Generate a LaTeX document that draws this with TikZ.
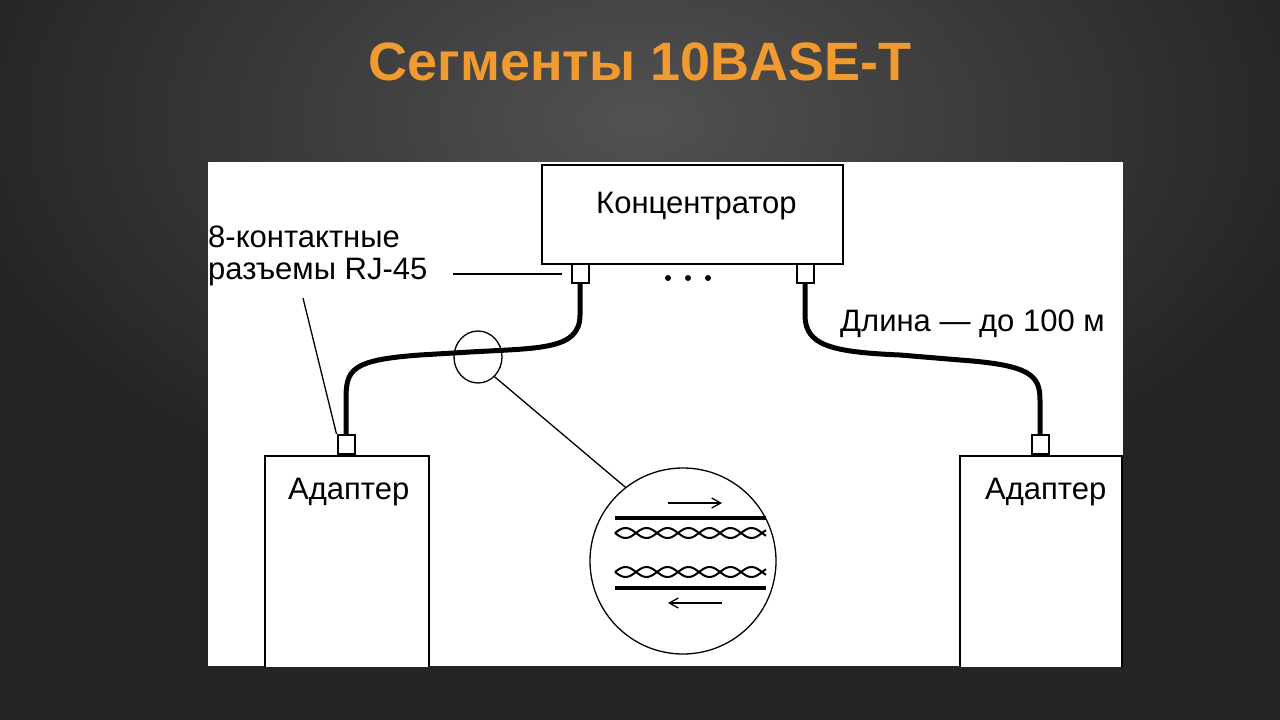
\documentclass[tikz,border=0pt]{standalone}
\usepackage{fontspec}
\setmainfont{Liberation Sans}
\usetikzlibrary{arrows.meta,shapes.geometric}
\begin{document}
\begin{tikzpicture}[x=1pt,y=-1pt,
  lbl/.style={font=\fontsize{31}{34}\selectfont,inner sep=0pt},
  box/.style={draw,line width=2pt,fill=white},
  jack/.style={draw,line width=2pt,fill=white},
  cable/.style={line width=5pt},
  thin/.style={line width=1.3pt}]
\useasboundingbox (0,0) rectangle (1280,720);
\fill[black!86] (0,0) rectangle (1280,720);
\shade[inner color=black!68,outer color=black!86] (640,120) ellipse (700 and 420);
\node (title) at (640,62) {\fontsize{54}{60}\selectfont\bfseries\color[HTML]{F09A30}Сегменты 10BASE-T};
\fill[white] (208,162) rectangle (1123,666);
\begin{scope}
\clip (208,162) rectangle (1123,666);
\node[box,minimum width=301pt,minimum height=99pt,anchor=north west] (hub) at (541,164) {};
\node[lbl,anchor=west] (hubt) at (596,206) {Концентратор};
\node[box,minimum width=164pt,minimum height=215pt,anchor=north west] (ad1) at (264,455) {};
\node[lbl,anchor=west] (ad1t) at (288,492) {Адаптер};
\node[box,minimum width=162pt,minimum height=215pt,anchor=north west] (ad2) at (959,455) {};
\node[lbl,anchor=west] (ad2t) at (985,492) {Адаптер};
\node[jack,minimum width=17pt,minimum height=19pt,inner sep=0pt,anchor=north] (j1) at (580,263) {};
\node[jack,minimum width=17pt,minimum height=19pt,inner sep=0pt,anchor=north] (j2) at (805,263) {};
\node[jack,minimum width=17pt,minimum height=19pt,inner sep=0pt,anchor=south] (j3) at (346,455) {};
\node[jack,minimum width=17pt,minimum height=19pt,inner sep=0pt,anchor=south] (j4) at (1040,455) {};
\foreach \x in {668,688,708} \fill (\x,278) circle (3);
\draw[cable] (j1.south) -- (580,315) .. controls (580,350) and (540,348) .. (470,352)
  -- (420,355) .. controls (350,360) and (346,370) .. (346,400) -- (j3.north);
\draw[cable] (j2.south) -- (805,315) .. controls (805,345) and (830,352) .. (900,355)
  -- (960,360) .. controls (1030,365) and (1040,375) .. (1040,400) -- (j4.north);
\node[draw,thin,ellipse,minimum width=48pt,minimum height=52pt,inner sep=0pt] (sc) at (478,357) {};
\node[draw,thin,circle,minimum size=186pt,inner sep=0pt] (bc) at (683,561) {};
\draw[thin] (sc.-50) -- (bc.128);
\node[lbl,anchor=west] (l1) at (208,237) {8-контактные};
\node[lbl,anchor=west] (l2) at (208,272) {разъемы RJ-45};
\coordinate (lend) at (562,274);
\draw[thin] (453,274) -- (lend);
\draw[thin] (303,298) -- (j3.north west);
\node[lbl,anchor=west] (len) at (840,324) {Длина — до 100 м};
\draw[line width=4pt] (615,518) -- (766,518);
\draw[line width=4pt] (615,588) -- (766,588);
\foreach \y in {533,572}{
  \draw[line width=2pt] plot[domain=615:766,samples=150,smooth] (\x,{\y+5*sin(2*pi*(\x-615)/42 r)});
  \draw[line width=2pt] plot[domain=615:766,samples=150,smooth] (\x,{\y-5*sin(2*pi*(\x-615)/42 r)});
}
\draw[thin,-{Straight Barb[length=9pt,width=10pt]}] (668,503) -- (722,503);
\draw[thin,-{Straight Barb[length=9pt,width=10pt]}] (722,603) -- (668,603);
\end{scope}
\end{tikzpicture}
\end{document}
